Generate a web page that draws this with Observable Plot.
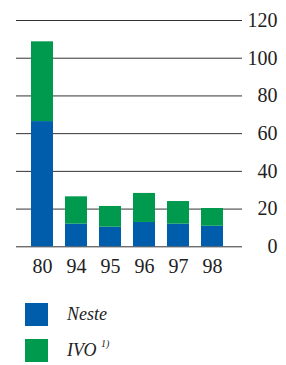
<!DOCTYPE html>
<html>
<head>
<meta charset="utf-8">
<script src="https://cdn.jsdelivr.net/npm/d3@7"></script>
<script src="https://cdn.jsdelivr.net/npm/@observablehq/plot@0.6"></script>
<style>
  html, body { margin: 0; padding: 0; background: #fff; }
  body { width: 286px; height: 365px; overflow: hidden; font-family: 'Liberation Serif'; }
  #legend { position: relative; height: 80px; }
  .item { position: absolute; left: 25px; height: 23px; display: flex; align-items: center; }
  .sw { width: 23px; height: 23px; }
  .lab { position: absolute; left: 42px; font-family: 'Liberation Serif'; font-style: italic; font-size: 18px; color: #222; white-space: nowrap; }
  .lab sup { font-size: 10px; position: relative; top: -2px; vertical-align: top; }
</style>
</head>
<body>
<div id="chart"></div>
<div id="legend"></div>
<script>
const years = ["80", "94", "95", "96", "97", "98"];
const neste = [66.4, 12.0, 10.4, 12.9, 12.0, 10.9];
const ivo = [42.3, 14.5, 11.0, 15.4, 12.0, 9.4];
const seriesNames = ["Neste", "IVO"];
const seriesColors = ["#005dab", "#009a4e"];
const yTicks = [0, 20, 40, 60, 80, 100, 120];

const rows = [];
years.forEach((yr, i) => {
  rows.push({year: yr, series: "Neste", value: neste[i]});
  rows.push({year: yr, series: "IVO", value: ivo[i]});
});

const chart = Plot.plot({
  width: 286,
  height: 285,
  marginTop: 20,
  marginBottom: 38.7,
  marginLeft: 16,
  marginRight: 44,
  style: {fontFamily: "Liberation Serif", fontSize: "20px", color: "#222", background: "#fff"},
  x: {domain: years, range: [18.6, 235.9], padding: 0.35, label: null},
  y: {domain: [0, 120], label: null},
  color: {domain: seriesNames, range: seriesColors},
  marks: [
    Plot.ruleY(yTicks, {stroke: "#333", strokeWidth: 1}),
    Plot.barY(rows, Plot.stackY({x: "year", y: "value", fill: "series", order: seriesNames})),
    Plot.axisX({tickSize: 0, tickPadding: 12, fontSize: 20, fontFamily: "Liberation Serif"}),
    Plot.axisY(yTicks, {anchor: "right", tickSize: 0, tickPadding: 35, textAnchor: "end", fontSize: 20, fontFamily: "Liberation Serif"})
  ]
});
document.getElementById("chart").appendChild(chart);

const legend = document.getElementById("legend");
const labels = ["Neste", "IVO <sup>1)</sup>"];
const tops = [18, 54];
seriesNames.forEach((s, i) => {
  const it = document.createElement("div");
  it.className = "item";
  it.style.top = tops[i] + "px";
  it.innerHTML = `<div class="sw" style="background:${seriesColors[i]}"></div><span class="lab">${labels[i]}</span>`;
  legend.appendChild(it);
});
</script>
</body>
</html>
